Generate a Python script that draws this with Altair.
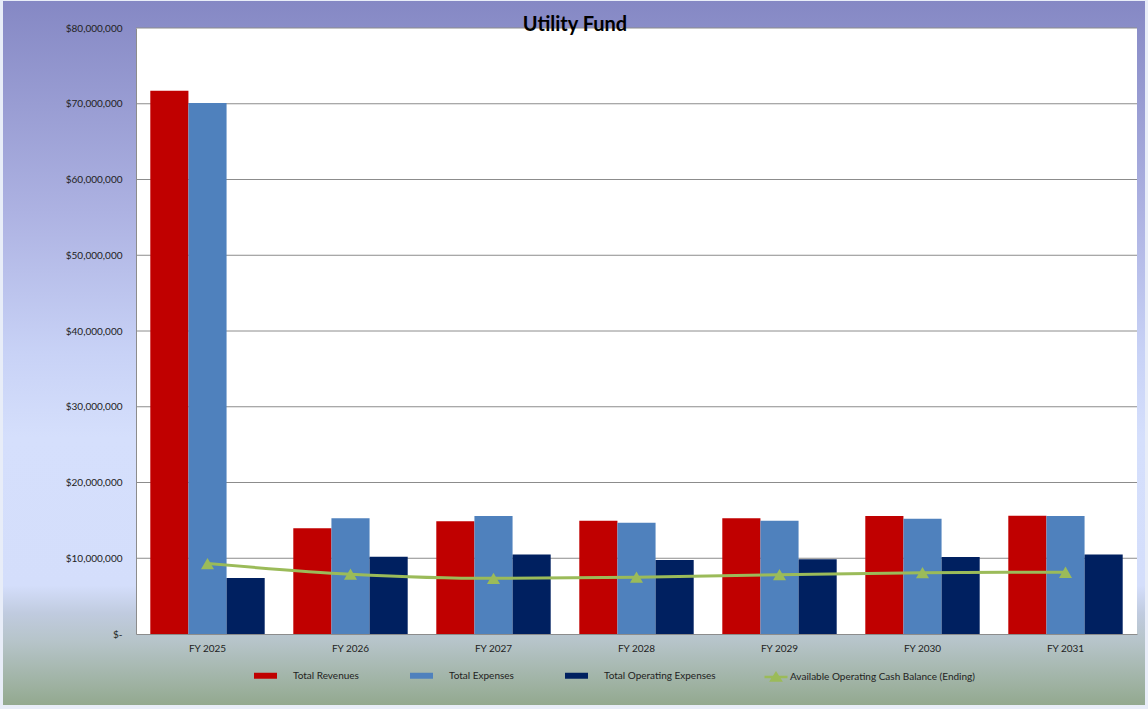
import altair as alt
import pandas as pd

# ---- data -------------------------------------------------------------
chart_title = "Utility Fund"
years = ["FY 2025", "FY 2026", "FY 2027", "FY 2028", "FY 2029", "FY 2030", "FY 2031"]
total_revenues = [71_700_000, 13_950_000, 14_900_000, 14_960_000, 15_270_000, 15_580_000, 15_600_000]
total_expenses = [70_100_000, 15_270_000, 15_580_000, 14_700_000, 14_960_000, 15_200_000, 15_580_000]
operating_expenses = [7_400_000, 10_200_000, 10_500_000, 9_770_000, 9_860_000, 10_160_000, 10_500_000]
cash_balance = [9_300_000, 7_900_000, 7_350_000, 7_500_000, 7_830_000, 8_100_000, 8_150_000]
gridline_values = [10_000_000, 20_000_000, 30_000_000, 40_000_000,
                   50_000_000, 60_000_000, 70_000_000, 80_000_000]

bar_series = ["Total Revenues", "Total Expenses", "Total Operating Expenses"]
bar_colors = ["#C00000", "#4F81BD", "#002060"]
line_series = "Available Operating Cash Balance (Ending)"
line_color = "#9BBB59"

FONT = "Lato"
W, H = 1001, 606
PAD = {"left": 136, "top": 28, "right": 11, "bottom": 75}

bars_df = pd.DataFrame(
    [
        {"year": y, "series": s, "value": v}
        for s, vals in zip(bar_series, [total_revenues, total_expenses, operating_expenses])
        for y, v in zip(years, vals)
    ]
)
line_df = pd.DataFrame({"year": years, "series": line_series, "value": cash_balance})
grid_df = pd.DataFrame({"value": gridline_values})
blank_df = pd.DataFrame({"k": [0]})
title_df = pd.DataFrame({"label": [chart_title]})

# ---- shared encodings ---------------------------------------------------
x_enc = alt.X(
    "year:N",
    sort=years,
    title=None,
    scale=alt.Scale(paddingInner=0.2, paddingOuter=0.1),
    axis=alt.Axis(
        labelFont=FONT, labelFontSize=10, labelColor="#222222", labelPadding=9,
        ticks=False, domainColor="#8c8c8c", domainWidth=1, labelAngle=0,
        grid=False, zindex=1,
    ),
)
y_enc = alt.Y(
    "value:Q",
    title=None,
    scale=alt.Scale(domain=[0, 80_000_000], nice=False, zero=True),
    axis=alt.Axis(
        values=[0] + gridline_values,
        labelExpr="datum.value == 0 ? '$-' : '$' + format(datum.value, ',.0f')",
        labelFont=FONT, labelFontSize=10, labelColor="#222222", labelPadding=14,
        ticks=False, domainColor="#8c8c8c", domainWidth=1,
        grid=False, zindex=1,
    ),
)

# ---- background panel and white plot area -------------------------------
panel = alt.Chart(blank_df).mark_rect(
    clip=False,
    color=alt.Gradient(
        gradient="linear", x1=0, x2=0, y1=0, y2=1,
        stops=[
            alt.GradientStop(offset=0.0, color="#8588c4"),
            alt.GradientStop(offset=0.3, color="#adb2e2"),
            alt.GradientStop(offset=0.5, color="#c8d2f6"),
            alt.GradientStop(offset=0.62, color="#d5dffc"),
            alt.GradientStop(offset=0.83, color="#d4defb"),
            alt.GradientStop(offset=0.87, color="#c0cbdf"),
            alt.GradientStop(offset=0.91, color="#b6c4c9"),
            alt.GradientStop(offset=1.0, color="#93a98f"),
        ],
    ),
).encode(
    x=alt.value(-133), x2=alt.value(W + 8),
    y=alt.value(-27), y2=alt.value(H + 71),
)

plot_bg = alt.Chart(blank_df).mark_rect(color="white").encode(
    x=alt.value(0), x2=alt.value(W), y=alt.value(0), y2=alt.value(H),
)

grid = alt.Chart(grid_df).mark_rule(color="#8c8c8c", strokeWidth=1).encode(y=y_enc)

# ---- bars -----------------------------------------------------------------
bars = alt.Chart(bars_df).mark_bar().encode(
    x=x_enc,
    xOffset=alt.XOffset("series:N", sort=bar_series, scale=alt.Scale(paddingInner=0, paddingOuter=0)),
    y=y_enc,
    fill=alt.Fill(
        "series:N",
        sort=bar_series,
        scale=alt.Scale(domain=bar_series, range=bar_colors),
        legend=alt.Legend(
            title=None, orient="none", direction="horizontal",
            legendX=118, legendY=636,
            symbolType="M-1,-0.26H1V0.26H-1Z", symbolSize=529, symbolStrokeWidth=0,
            labelOffset=16, columnPadding=51, labelLimit=300,
            labelFont=FONT, labelFontSize=10, labelColor="#222222",
        ),
    ),
)

# ---- cash balance line with triangle markers ------------------------------
line = alt.Chart(line_df).mark_line(strokeWidth=3, interpolate="monotone").encode(
    x=x_enc,
    y=y_enc,
    stroke=alt.Stroke(
        "series:N",
        scale=alt.Scale(domain=[line_series], range=[line_color]),
        legend=alt.Legend(
            title=None, orient="none", direction="horizontal",
            legendX=627, legendY=636,
            symbolType="M-1,0H1M-0.4,0.3L0,-0.32L0.4,0.3Z", symbolSize=529,
            symbolStrokeWidth=2.5, symbolFillColor=line_color,
            labelOffset=1, labelLimit=400,
            labelFont=FONT, labelFontSize=10, labelColor="#222222",
        ),
    ),
)

markers = alt.Chart(line_df).mark_point(
    shape="triangle-up", filled=True, size=170, color=line_color, opacity=1
).encode(x=x_enc, y=y_enc)

# ---- chart title, drawn over the top edge of the plot ---------------------
title_text = alt.Chart(title_df).mark_text(
    font=FONT, fontSize=20, fontWeight="bold", color="black",
    align="center", baseline="alphabetic", clip=False,
).encode(text="label:N", x=alt.value(439), y=alt.value(3))

chart = (
    alt.layer(panel, plot_bg, grid, bars, line, markers, title_text)
    .properties(
        width=W,
        height=H,
        padding=PAD,
        autosize=alt.AutoSizeParams(type="none"),
        background="#e8edf8",
    )
    .configure_view(stroke=None)
)

chart.save("out.html", embed_options={"renderer": "svg", "actions": False})
